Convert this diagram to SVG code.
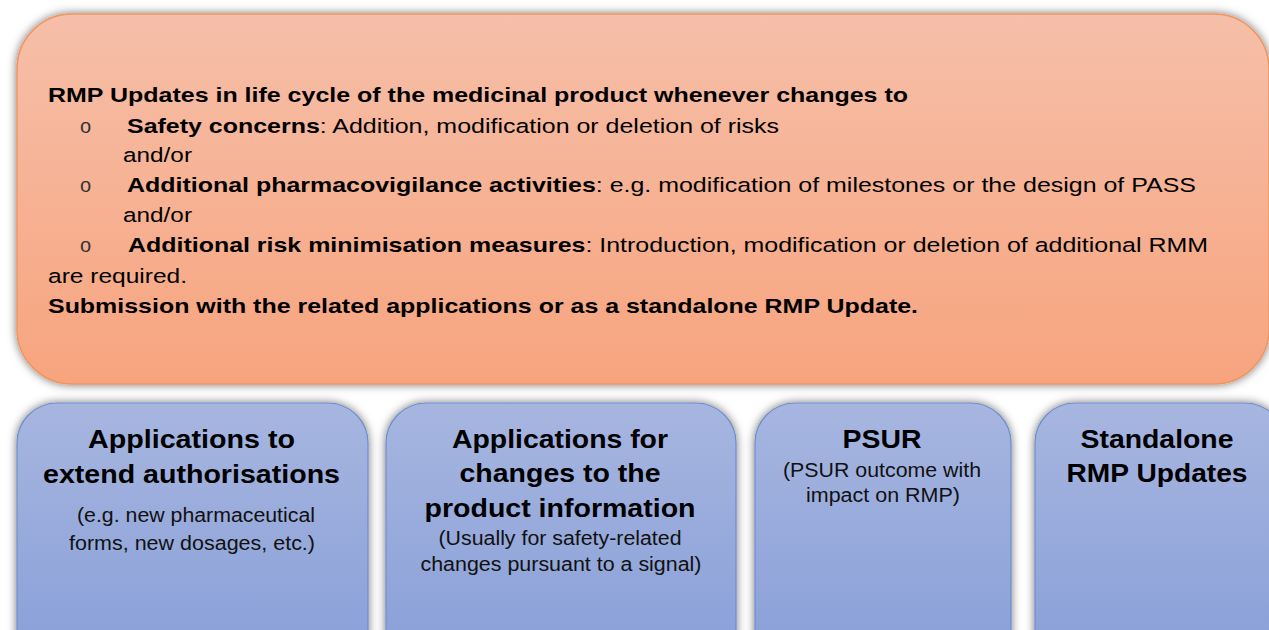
<svg xmlns="http://www.w3.org/2000/svg" width="1269" height="630" viewBox="0 0 1269 630">
  <defs>
    <linearGradient id="gOrange" x1="0" y1="0" x2="0" y2="1">
      <stop offset="0" stop-color="#f6bfa9"/>
      <stop offset="1" stop-color="#f7a47e"/>
    </linearGradient>
    <linearGradient id="gBlue" x1="0" y1="0" x2="0" y2="1">
      <stop offset="0" stop-color="#a7b6e0"/>
      <stop offset="1" stop-color="#869dd7"/>
    </linearGradient>
    <filter id="shadow" x="-10%" y="-10%" width="120%" height="120%">
      <feDropShadow dx="0" dy="0" stdDeviation="5" flood-color="#000" flood-opacity="0.55"/>
    </filter>
    <style>
      text { font-family: "Liberation Sans", Arial, sans-serif; fill: #000; }
      .main { font-size: 20.5px; }
      .b { font-weight: bold; }
      .bullet { font-size: 20px; fill: #333; }
      .title { font-size: 25.5px; font-weight: bold; text-anchor: middle; }
      .sub { font-size: 19.5px; text-anchor: middle; fill: #111; }
      .orange { fill: url(#gOrange); stroke: #ef9660; stroke-width: 1.5; filter: url(#shadow); }
      .blue { fill: url(#gBlue); stroke: #6e8dcb; stroke-width: 1.2; filter: url(#shadow); }
    </style>
  </defs>
  <rect width="1269" height="630" fill="#ffffff"/>

  <g id="rmp-updates">
    <rect class="orange" x="17" y="14" width="1252" height="370" rx="55" ry="55"/>
    <text class="main b" x="48" y="102" textLength="860" lengthAdjust="spacingAndGlyphs">RMP Updates in life cycle of the medicinal product whenever changes to</text>
    <text class="bullet" x="80" y="133">o</text>
    <text class="main" x="127" y="133" textLength="652" lengthAdjust="spacingAndGlyphs"><tspan class="b">Safety concerns</tspan>: Addition, modification or deletion of risks</text>
    <text class="main" x="123" y="162" textLength="69" lengthAdjust="spacingAndGlyphs">and/or</text>
    <text class="bullet" x="80" y="192">o</text>
    <text class="main" x="127" y="192" textLength="1069" lengthAdjust="spacingAndGlyphs"><tspan class="b">Additional pharmacovigilance activities</tspan>: e.g. modification of milestones or the design of PASS</text>
    <text class="main" x="123" y="222" textLength="69" lengthAdjust="spacingAndGlyphs">and/or</text>
    <text class="bullet" x="80" y="252">o</text>
    <text class="main" x="128" y="252" textLength="1080" lengthAdjust="spacingAndGlyphs"><tspan class="b">Additional risk minimisation measures</tspan>: Introduction, modification or deletion of additional RMM</text>
    <text class="main" x="48" y="283" textLength="139" lengthAdjust="spacingAndGlyphs">are required.</text>
    <text class="main b" x="48" y="313" textLength="870" lengthAdjust="spacingAndGlyphs">Submission with the related applications or as a standalone RMP Update.</text>
  </g>

  <g id="box-extend">
    <rect class="blue" x="17" y="403" width="351" height="280" rx="40" ry="40"/>
    <text class="title" x="191.5" y="448" textLength="207" lengthAdjust="spacingAndGlyphs">Applications to</text>
    <text class="title" x="191.5" y="483" textLength="297" lengthAdjust="spacingAndGlyphs">extend authorisations</text>
    <text class="sub" x="196" y="522" textLength="238" lengthAdjust="spacingAndGlyphs">(e.g. new pharmaceutical</text>
    <text class="sub" x="192" y="550" textLength="246" lengthAdjust="spacingAndGlyphs">forms, new dosages, etc.)</text>
  </g>

  <g id="box-changes">
    <rect class="blue" x="386" y="403" width="350" height="280" rx="40" ry="40"/>
    <text class="title" x="560" y="448" textLength="216" lengthAdjust="spacingAndGlyphs">Applications for</text>
    <text class="title" x="560" y="482" textLength="201" lengthAdjust="spacingAndGlyphs">changes to the</text>
    <text class="title" x="560" y="517" textLength="271" lengthAdjust="spacingAndGlyphs">product information</text>
    <text class="sub" x="560" y="545" textLength="243" lengthAdjust="spacingAndGlyphs">(Usually for safety-related</text>
    <text class="sub" x="561" y="571" textLength="281" lengthAdjust="spacingAndGlyphs">changes pursuant to a signal)</text>
  </g>

  <g id="box-psur">
    <rect class="blue" x="755" y="403" width="256" height="280" rx="40" ry="40"/>
    <text class="title" x="882" y="448" textLength="79" lengthAdjust="spacingAndGlyphs">PSUR</text>
    <text class="sub" x="882" y="477" textLength="198" lengthAdjust="spacingAndGlyphs">(PSUR outcome with</text>
    <text class="sub" x="883" y="502" textLength="154" lengthAdjust="spacingAndGlyphs">impact on RMP)</text>
  </g>

  <g id="box-standalone">
    <rect class="blue" x="1035" y="403" width="250" height="280" rx="40" ry="40"/>
    <text class="title" x="1157" y="448" textLength="153" lengthAdjust="spacingAndGlyphs">Standalone</text>
    <text class="title" x="1157" y="482" textLength="181" lengthAdjust="spacingAndGlyphs">RMP Updates</text>
  </g>

  <g id="connectors"></g>
</svg>
